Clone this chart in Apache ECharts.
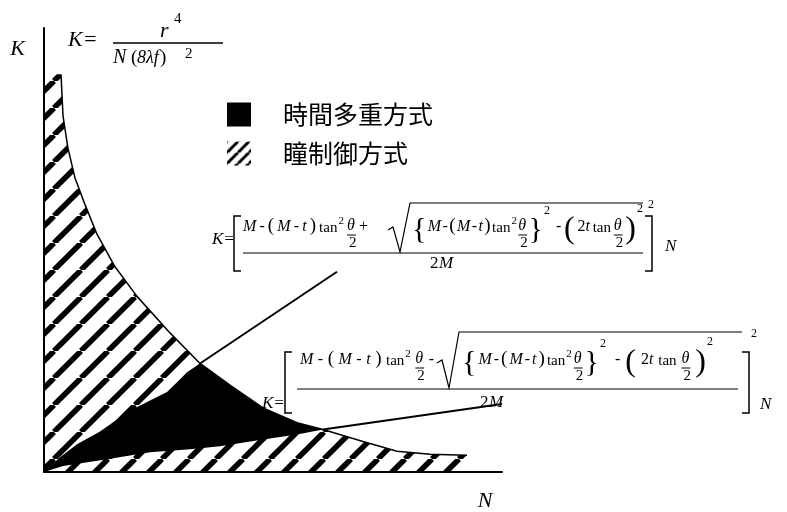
<!DOCTYPE html>
<html>
<head>
<meta charset="utf-8">
<script src="https://cdn.jsdelivr.net/npm/echarts@6/dist/echarts.min.js"></script>
<style>
  html, body { margin: 0; padding: 0; background: #fff; }
  #chart { width: 787px; height: 512px; }
</style>
</head>
<body>
<div id="chart"></div>
<script>
// Limit curve K = r^4 / (N (8λf)^2), sampled along N
const curveN = [17, 19, 24, 31, 41, 53, 71, 93, 126, 156, 186, 219, 253, 279, 319, 353, 386, 423];
const curveK = [403, 361, 328, 298, 271, 241, 208, 178, 141, 110, 88, 65, 50, 43, 31, 21, 18, 17];

// Upper boundary of the time-multiplex region (from the origin to the curve)
const upperEdgeN = [0, 16, 33, 56, 84, 103, 123, 133, 143, 156];
const upperEdgeK = [0, 15, 28, 41, 61, 71, 81, 91, 101, 110];

// Lower boundary of the time-multiplex region (from the origin to the curve)
const lowerEdgeN = [0, 19, 63, 106, 146, 176, 219, 253, 279];
const lowerEdgeK = [0, 6, 13, 20, 23, 26, 33, 38, 43];

// Straight boundaries beyond the curve ("+" root and "-" root)
const plusLineN = [156, 293];
const plusLineK = [110, 203];
const minusLineN = [279, 458];
const minusLineK = [43, 69];

const legendNames = ['時間多重方式', '瞳制御方式'];

const zip = (a, b) => a.map((v, i) => [v, b[i]]);
const curvePts = zip(curveN, curveK);

// Hatched region: under the curve, bounded by both axes
const hatchPts = [[0, 0], [0, curveK[0]]].concat(curvePts, [[curveN[curveN.length - 1], 0]]);

// Black region: upper edge, along the curve, back along the lower edge
const iA = curveN.indexOf(upperEdgeN[upperEdgeN.length - 1]);
const iB = curveN.indexOf(lowerEdgeN[lowerEdgeN.length - 1]);
const blackPts = zip(upperEdgeN, upperEdgeK)
  .concat(curvePts.slice(iA + 1, iB + 1))
  .concat(zip(lowerEdgeN, lowerEdgeK).reverse().slice(1));

function hatchCanvas(s, lw) {
  const c = document.createElement('canvas');
  c.width = s; c.height = s;
  const g = c.getContext('2d');
  g.strokeStyle = '#000';
  g.lineWidth = lw;
  for (let k = -1; k <= 1; k++) {
    g.beginPath();
    g.moveTo(k * s, s);
    g.lineTo(k * s + s, 0);
    g.stroke();
  }
  return c;
}
const hatchFill = { image: hatchCanvas(27, 5.5), repeat: 'repeat' };
const hatchIconFill = { image: hatchCanvas(11, 3), repeat: 'repeat' };

function regionSeries(name, pts, fill, z) {
  return {
    type: 'custom',
    name: name,
    coordinateSystem: 'cartesian2d',
    data: [[0, 0]],
    z: z,
    silent: true,
    itemStyle: { color: fill },
    renderItem: function (params, api) {
      return {
        type: 'polygon',
        shape: { points: pts.map(p => api.coord(p)) },
        style: { fill: fill, stroke: null }
      };
    }
  };
}

function lineSeries(data, width, z) {
  return {
    type: 'line', data: data, symbol: 'none', silent: true, z: z,
    lineStyle: { color: '#000', width: width }
  };
}

// ---- formula drawing helpers ----
const SERIF = '"Liberation Serif", "DejaVu Serif", serif';
const FS = 16;
const mctx = document.createElement('canvas').getContext('2d');
function fontOf(size, italic) { return (italic ? 'italic ' : '') + size + 'px ' + SERIF; }
function measure(s, size, italic) { mctx.font = fontOf(size, italic); return mctx.measureText(s).width; }

function txt(x, y, s, size, italic) {
  return {
    type: 'text', x: x, y: y, silent: true,
    style: {
      text: s, fill: '#000', font: fontOf(size, italic),
      textAlign: 'left', textVerticalAlign: 'middle', verticalAlign: 'middle'
    }
  };
}
function seg(x1, y1, x2, y2, w) {
  return { type: 'line', silent: true, shape: { x1, y1, x2, y2 }, style: { stroke: '#000', lineWidth: w || 1 } };
}
function pline(points, w) {
  return { type: 'polyline', silent: true, shape: { points: points }, style: { stroke: '#000', fill: null, lineWidth: w || 1 } };
}

// Lays a group of tokens out between x0 and x1, spreading the free space evenly.
// Token kinds: plain text, 'sup' / 'att' (attached to the previous token), 'frac' (θ over 2).
function buildRow(out, tokens, x0, x1, y) {
  const widths = tokens.map(tk => tk.k === 'frac'
    ? Math.max(measure('θ', FS, true), measure('2', 15)) + 1
    : measure(tk.t, tk.s || FS, tk.i));
  const total = widths.reduce((a, b) => a + b, 0);
  const attached = tk => tk.k === 'sup' || tk.k === 'att';
  const nGaps = tokens.filter((tk, i) => i > 0 && !attached(tk)).length;
  const gap = nGaps ? Math.max(0, (x1 - x0 - total) / nGaps) : 0;
  let x = x0;
  tokens.forEach((tk, i) => {
    if (i > 0 && !attached(tk)) x += gap;
    if (tk.k === 'sup') x += 1;
    if (tk.k === 'frac') {
      out.push(txt(x, y - 1, 'θ', FS, true), seg(x, y + 8, x + widths[i], y + 8, 1), txt(x + 2, y + 16, '2', 15));
    } else {
      out.push(txt(x, y + (tk.dy || 0), tk.t, tk.s || FS, !!tk.i));
    }
    x += widths[i];
  });
}

function radical(out, x, y, drop, top, end) {
  out.push(pline([[x, y + 3], [x + 5, y], [x + 12, y + drop], [x + 22, top], [end, top]], 1.2));
}

const half = [{ t: 'tan', s: 15, dy: 1 }, { t: '2', s: 11, k: 'sup', dy: -6 }, { k: 'frac' }];
const inner = [{ t: 'M', i: 1 }, { t: '-' }, { t: '(', s: 19, dy: -1 }, { t: 'M', i: 1 }, { t: '-' },
               { t: 't', i: 1 }, { t: ')', s: 19, dy: -1 }].concat(half);
const braced = [{ t: '{', s: 30, dy: 3 }].concat(inner, [{ t: '}', s: 30, dy: 3 }, { t: '2', s: 12, k: 'sup', dy: -16 }]);
const tail = [{ t: '-' }, { t: '(', s: 32, dy: 3 }, { t: '2' }, { t: 't', i: 1, k: 'att' }, { t: 'tan', s: 15, dy: 1 },
              { k: 'frac' }, { t: ')', s: 32, dy: 3 }, { t: '2', s: 12, k: 'sup', dy: -18 }];

const g = [];
// K = r^4 / (N (8λf)^2)
g.push(txt(68, 40, 'K=', 22, true));
g.push(txt(160, 31, 'r', 22, true), txt(174, 19, '4', 15));
g.push(seg(113, 43, 223, 43, 1.5));
g.push(txt(113, 58, 'N', 20, true), txt(131, 58, '(', 19), txt(137, 58, '8λf', 18, true));
g.push(txt(160, 58, ')', 19), txt(185, 54, '2', 15));

// "+" root formula
g.push(txt(212, 240, 'K=', 17, true));
g.push(pline([[241, 216], [234, 216], [234, 271], [241, 271]], 1.5));
buildRow(g, inner.concat([{ t: '+' }]), 243, 367, 227);
radical(g, 388, 227, 25, 203, 643);
buildRow(g, braced, 412, 548, 227);
buildRow(g, tail, 556, 642, 227);
g.push(seg(243, 253, 643, 253, 1));
g.push(txt(430, 264, '2', 17), txt(439, 264, 'M', 17, true));
g.push(pline([[645, 216], [652, 216], [652, 271], [645, 271]], 1.5));
g.push(txt(648, 205, '2', 12), txt(665, 247, 'N', 17, true));

// "-" root formula
g.push(txt(262, 404, 'K=', 17, true));
g.push(pline([[292, 352], [285, 352], [285, 413], [292, 413]], 1.5));
buildRow(g, inner.concat([{ t: '-' }]), 300, 433, 360);
radical(g, 437, 360, 28, 332, 742);
buildRow(g, braced, 462, 604, 360);
buildRow(g, tail, 615, 712, 360);
g.push(seg(297, 389, 738, 389, 1));
g.push(txt(480, 403, '2', 17), txt(489, 403, 'M', 17, true));
g.push(pline([[742, 352], [749, 352], [749, 413], [742, 413]], 1.5));
g.push(txt(751, 334, '2', 12), txt(760, 405, 'N', 17, true));

const chart = echarts.init(document.getElementById('chart'), null, { renderer: 'canvas' });
chart.setOption({
  animation: false,
  backgroundColor: '#fff',
  grid: { left: 44, top: 28, width: 458, height: 450 },
  xAxis: {
    type: 'value', min: 0, max: 458,
    name: 'N', nameLocation: 'end', nameGap: -17,
    nameTextStyle: { fontFamily: SERIF, fontStyle: 'italic', fontSize: 22, color: '#000',
                     align: 'center', verticalAlign: 'top', padding: [18, 0, 0, 0] },
    axisLine: { lineStyle: { color: '#000', width: 2 } },
    axisTick: { show: false }, axisLabel: { show: false }, splitLine: { show: false }
  },
  yAxis: {
    type: 'value', min: 0, max: 450,
    name: 'K', nameLocation: 'end', nameGap: -10,
    nameTextStyle: { fontFamily: SERIF, fontStyle: 'italic', fontSize: 22, color: '#000',
                     align: 'right', verticalAlign: 'top', padding: [0, 19, 0, 0] },
    axisLine: { lineStyle: { color: '#000', width: 2 } },
    axisTick: { show: false }, axisLabel: { show: false }, splitLine: { show: false }
  },
  legend: {
    orient: 'vertical', left: 222, top: 97,
    itemWidth: 24, itemHeight: 24, itemGap: 14,
    data: [
      { name: legendNames[0], icon: 'rect' },
      { name: legendNames[1], icon: 'rect', itemStyle: { color: hatchIconFill } }
    ],
    textStyle: { fontFamily: '"Noto Sans CJK JP", sans-serif', fontSize: 25, color: '#000',
                 lineHeight: 24, padding: [0, 0, 0, 27] },
    selectedMode: false
  },
  series: [
    regionSeries(legendNames[1], hatchPts, hatchFill, 1),
    regionSeries(legendNames[0], blackPts, '#000', 2),
    lineSeries(curvePts, 1.5, 3),
    lineSeries(zip(plusLineN, plusLineK), 2, 3),
    lineSeries(zip(minusLineN, minusLineK), 2, 3)
  ],
  graphic: g
});
</script>
</body>
</html>
